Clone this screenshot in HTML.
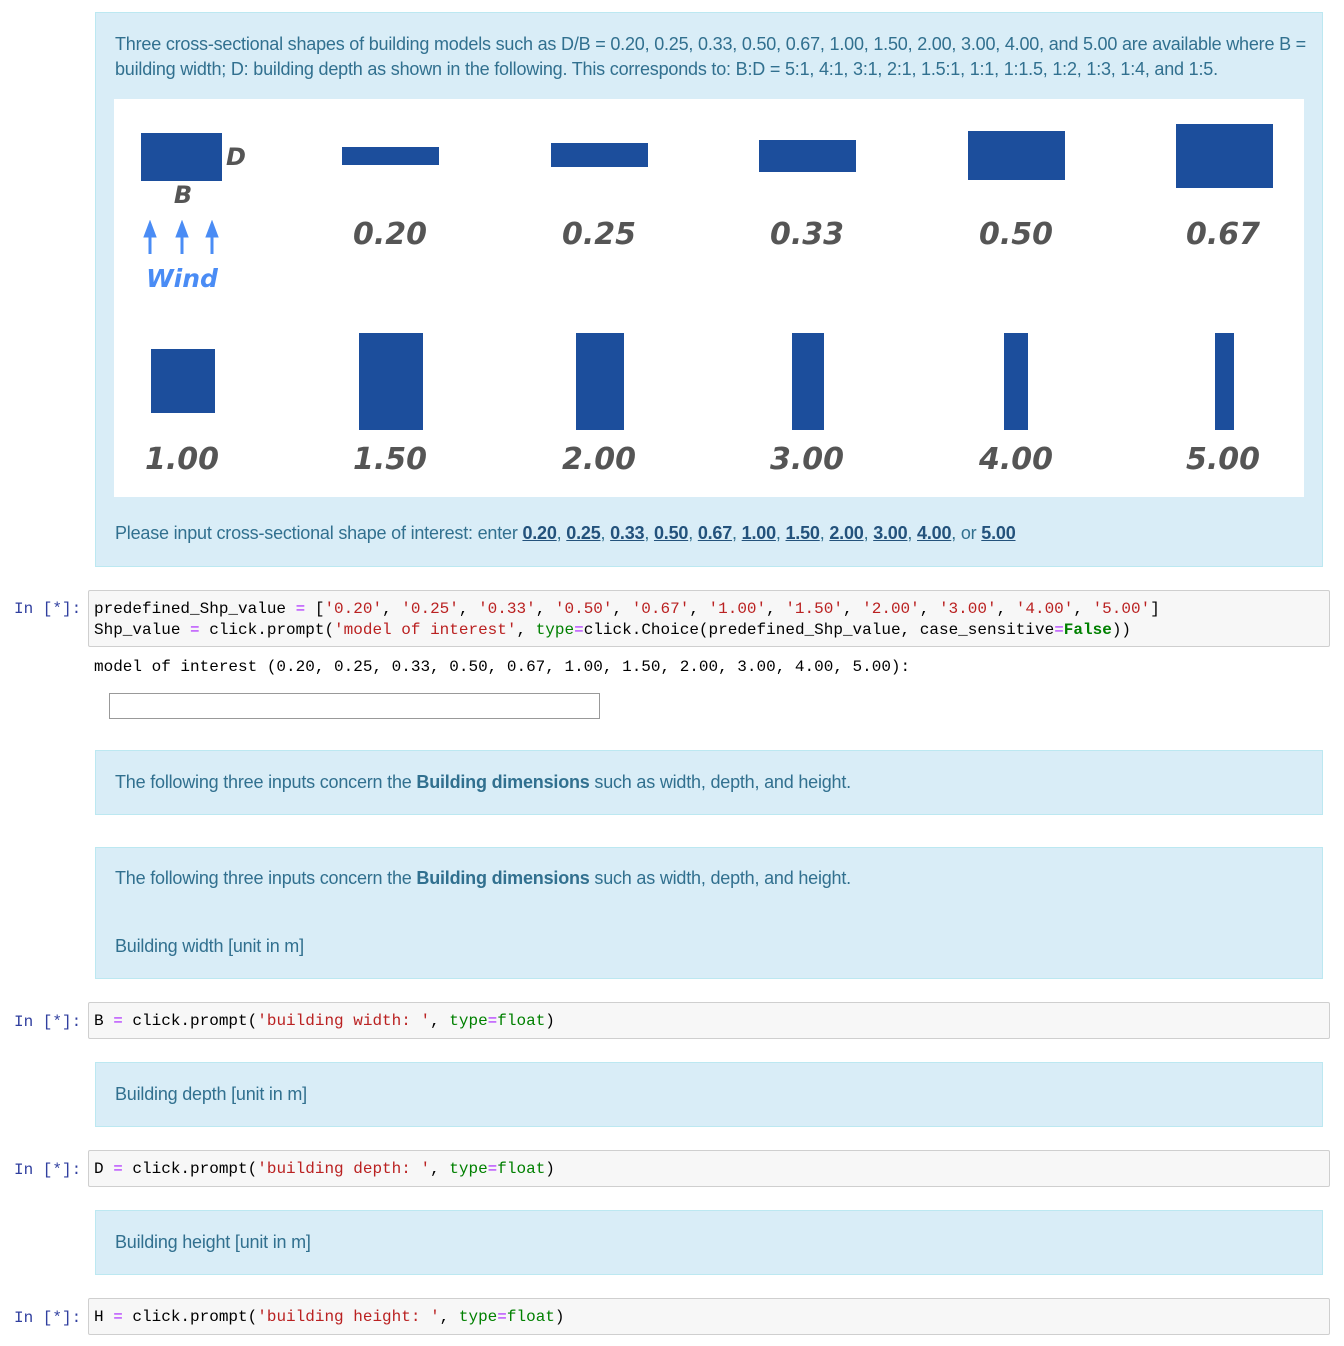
<!DOCTYPE html>
<html><head><meta charset="utf-8"><style>
body{margin:0;width:1344px;height:1346px;background:#fff;position:relative;font-family:"Liberation Sans",sans-serif;overflow:hidden}
.box{position:absolute;left:95px;width:1226px;background:#d9edf7;border:1px solid #bce8f1;color:#31708f;font-size:18px;letter-spacing:-0.2px}
.box p{position:absolute;left:19px;margin:0;white-space:nowrap}
.code{position:absolute;left:88px;width:1242px;background:#f7f7f7;border:1px solid #cfcfcf;border-radius:2px;font-family:"Liberation Mono",monospace;font-size:16px;line-height:21px;white-space:pre;padding:8px 5px 4px;box-sizing:border-box;color:#000}
.pr{position:absolute;left:14px;font-family:"Liberation Mono",monospace;font-size:16px;color:#303f9f;white-space:pre}
.s{color:#ba2121}.o{color:#aa22ff}.k{color:#008000}.b{color:#008000;font-weight:bold}
.r{position:absolute;background:#1c4e9c}
.l{position:absolute;width:140px;text-align:center;font-weight:bold;font-style:italic;font-size:30px;color:#555;font-family:"DejaVu Sans",sans-serif}
a{color:#23527c;font-weight:bold;text-decoration:underline}
</style></head><body>
<div class="box" style="top:12px;height:553px">
<p style="top:19px;line-height:25px">Three cross-sectional shapes of building models such as D/B = 0.20, 0.25, 0.33, 0.50, 0.67, 1.00, 1.50, 2.00, 3.00, 4.00, and 5.00 are available where B =<br>building width; D: building depth as shown in the following. This corresponds to: B:D = 5:1, 4:1, 3:1, 2:1, 1.5:1, 1:1, 1:1.5, 1:2, 1:3, 1:4, and 1:5.</p>
<p style="top:510px">Please input cross-sectional shape of interest: enter <a>0.20</a>, <a>0.25</a>, <a>0.33</a>, <a>0.50</a>, <a>0.67</a>, <a>1.00</a>, <a>1.50</a>, <a>2.00</a>, <a>3.00</a>, <a>4.00</a>, or <a>5.00</a></p>
</div>
<div style="position:absolute;left:114px;top:99px;width:1190px;height:398px;background:#fff"></div>
<div class="r" style="left:141px;top:133px;width:81px;height:48px"></div>
<div class="r" style="left:342px;top:147px;width:97px;height:18px"></div>
<div class="r" style="left:551px;top:143px;width:97px;height:24px"></div>
<div class="r" style="left:759px;top:140px;width:97px;height:32px"></div>
<div class="r" style="left:968px;top:131px;width:97px;height:49px"></div>
<div class="r" style="left:1176px;top:124px;width:97px;height:64px"></div>
<div class="r" style="left:151px;top:349px;width:64px;height:64px"></div>
<div class="r" style="left:359px;top:333px;width:64px;height:97px"></div>
<div class="r" style="left:576px;top:333px;width:48px;height:97px"></div>
<div class="r" style="left:792px;top:333px;width:32px;height:97px"></div>
<div class="r" style="left:1004px;top:333px;width:24px;height:97px"></div>
<div class="r" style="left:1215px;top:333px;width:19px;height:97px"></div>
<div class="l" style="left:216px;top:143px;width:40px;font-size:24px">D</div>
<div class="l" style="left:163px;top:181px;width:40px;font-size:24px">B</div>
<svg style="position:absolute;left:140px;top:220px" width="85" height="36"><g fill="#4a8cf5" stroke="#4a8cf5" stroke-width="3"><line x1="10" y1="10" x2="10" y2="34"/><line x1="42" y1="10" x2="42" y2="34"/><line x1="72" y1="10" x2="72" y2="34"/><polygon stroke-width="1" points="10,1 4,17 16,17"/><polygon stroke-width="1" points="42,1 36,17 48,17"/><polygon stroke-width="1" points="72,1 66,17 78,17"/></g></svg>
<div class="l" style="left:112px;top:264px;font-size:25px;color:#4a8cf5">Wind</div>
<div class="l" style="left:320px;top:217px">0.20</div>
<div class="l" style="left:529px;top:217px">0.25</div>
<div class="l" style="left:737px;top:217px">0.33</div>
<div class="l" style="left:946px;top:217px">0.50</div>
<div class="l" style="left:1153px;top:217px">0.67</div>
<div class="l" style="left:112px;top:442px">1.00</div>
<div class="l" style="left:320px;top:442px">1.50</div>
<div class="l" style="left:529px;top:442px">2.00</div>
<div class="l" style="left:737px;top:442px">3.00</div>
<div class="l" style="left:946px;top:442px">4.00</div>
<div class="l" style="left:1153px;top:442px">5.00</div>

<div class="pr" style="top:600px">In [*]:</div>
<div class="code" style="top:590px;height:57px">predefined_Shp_value <span class="o">=</span> [<span class="s">'0.20'</span>, <span class="s">'0.25'</span>, <span class="s">'0.33'</span>, <span class="s">'0.50'</span>, <span class="s">'0.67'</span>, <span class="s">'1.00'</span>, <span class="s">'1.50'</span>, <span class="s">'2.00'</span>, <span class="s">'3.00'</span>, <span class="s">'4.00'</span>, <span class="s">'5.00'</span>]
Shp_value <span class="o">=</span> click.prompt(<span class="s">'model of interest'</span>, <span class="k">type</span><span class="o">=</span>click.Choice(predefined_Shp_value, case_sensitive<span class="o">=</span><span class="b">False</span>))</div>
<div class="pr" style="left:94px;top:658px;color:#000">model of interest (0.20, 0.25, 0.33, 0.50, 0.67, 1.00, 1.50, 2.00, 3.00, 4.00, 5.00):</div>
<div style="position:absolute;left:109px;top:693px;width:489px;height:24px;border:1px solid #999;background:#fff"></div>

<div class="box" style="top:750px;height:63px"><p style="top:21px">The following three inputs concern the <b>Building dimensions</b> such as width, depth, and height.</p></div>
<div class="box" style="top:847px;height:130px"><p style="top:20px">The following three inputs concern the <b>Building dimensions</b> such as width, depth, and height.</p><p style="top:88px">Building width [unit in m]</p></div>

<div class="pr" style="top:1013px">In [*]:</div>
<div class="code" style="top:1002px;height:37px">B <span class="o">=</span> click.prompt(<span class="s">'building width: '</span>, <span class="k">type</span><span class="o">=</span><span class="k">float</span>)</div>
<div class="box" style="top:1062px;height:63px"><p style="top:21px">Building depth [unit in m]</p></div>
<div class="pr" style="top:1161px">In [*]:</div>
<div class="code" style="top:1150px;height:37px">D <span class="o">=</span> click.prompt(<span class="s">'building depth: '</span>, <span class="k">type</span><span class="o">=</span><span class="k">float</span>)</div>
<div class="box" style="top:1210px;height:63px"><p style="top:21px">Building height [unit in m]</p></div>
<div class="pr" style="top:1309px">In [*]:</div>
<div class="code" style="top:1298px;height:37px">H <span class="o">=</span> click.prompt(<span class="s">'building height: '</span>, <span class="k">type</span><span class="o">=</span><span class="k">float</span>)</div>
</body></html>
